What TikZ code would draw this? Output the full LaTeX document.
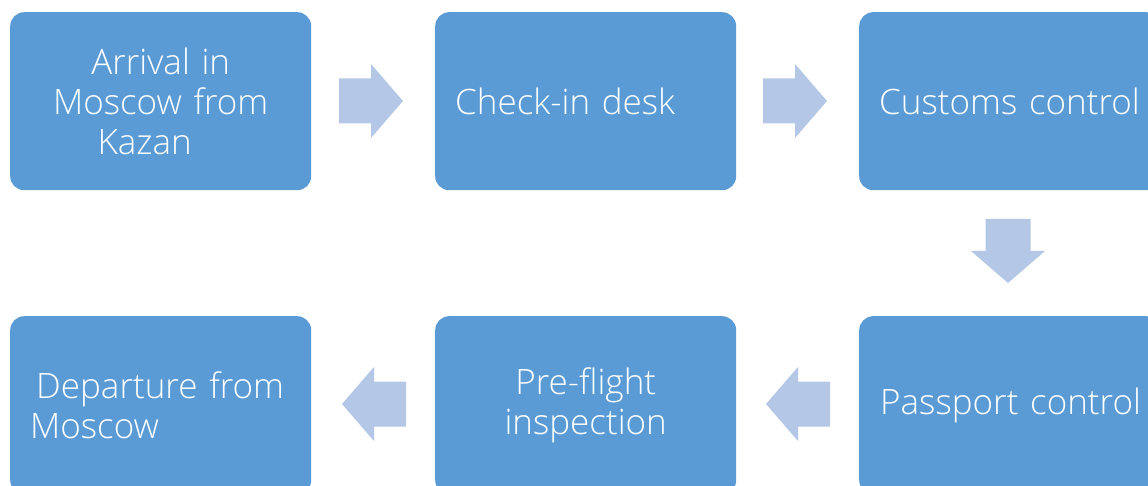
\documentclass[tikz,border=0pt]{standalone}
\usepackage{fontspec}
\IfFontExistsTF{Open Sans Light}{\setmainfont{Open Sans Light}}{\setmainfont{Open Sans}}
\definecolor{boxblue}{HTML}{5B9BD5}
\definecolor{arrowblue}{HTML}{B4C7E7}
\tikzset{
  stepbox/.style={fill=boxblue, rounded corners=14pt, text=white,
    minimum width=301pt, minimum height=178pt, text width=261pt,
    inner xsep=20pt, inner ysep=0pt, anchor=north west,
    font=\fontsize{35}{40}\selectfont},
  leftbox/.style={stepbox, align=left},
  centerbox/.style={stepbox, align=center},
  blockarrow/.pic={\fill[arrowblue] (-32,-22.5) -- (0,-22.5) -- (0,-37) -- (32,0) -- (0,37) -- (0,22.5) -- (-32,22.5) -- cycle;}
}
\begin{document}
\begin{tikzpicture}[x=1pt,y=-1pt]
\useasboundingbox (0,0) rectangle (1148,486);
\clip (0,0) rectangle (1148,486);
\node[centerbox] (b1) at (10,12) {\mbox{Arrival in}\\\mbox{Moscow from}\\\mbox{Kazan\hspace*{32pt}}};
\node[leftbox] (b2) at (435,12) {\mbox{Check-in desk}};
\node[leftbox] (b3) at (859,12) {\mbox{Customs control}};
\node[leftbox] (b6) at (859,316) {\mbox{\hspace*{1pt}Passport control}};
\node[centerbox] (b5) at (435,316) {\mbox{Pre-flight}\\\mbox{inspection}};
\node[leftbox] (b4) at (10,316) {\mbox{\hspace*{6pt}Departure from}\\\mbox{Moscow}};
\coordinate (a1) at (371,101);
\coordinate (a2) at (795,101);
\coordinate (a3) at (1008,251);
\coordinate (a4) at (798,404);
\coordinate (a5) at (374,404);
\pic at (a1) {blockarrow};
\pic at (a2) {blockarrow};
\pic[rotate=-90] at (a3) {blockarrow};
\pic[rotate=180] at (a4) {blockarrow};
\pic[rotate=180] at (a5) {blockarrow};
\end{tikzpicture}
\end{document}
